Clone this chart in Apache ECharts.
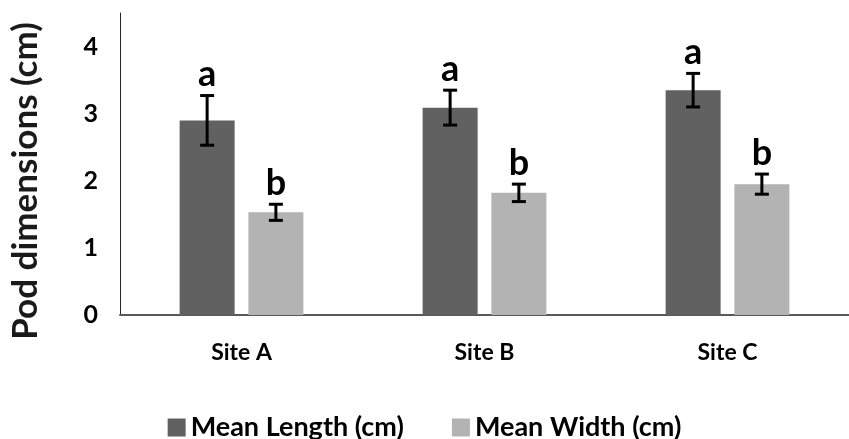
<!DOCTYPE html>
<html>
<head>
<meta charset="utf-8">
<script src="https://cdn.jsdelivr.net/npm/echarts@6/dist/echarts.min.js"></script>
<style>html,body{margin:0;padding:0;background:#fff;}#c{width:849px;height:439px;}</style>
</head>
<body>
<div id="c"></div>
<script>
const categories = ['Site A', 'Site B', 'Site C'];
const seriesNames = ['Mean Length (cm)', 'Mean Width (cm)'];
const lengthMean = [2.90, 3.09, 3.35];
const lengthErr = [0.37, 0.26, 0.25];
const widthMean = [1.53, 1.82, 1.95];
const widthErr = [0.12, 0.13, 0.15];
const lengthLetters = ['a', 'a', 'a'];
const widthLetters = ['b', 'b', 'b'];
const yTicks = [0, 1, 2, 3, 4];
const yTitle = 'Pod dimensions (cm)';

const BAR_W = 55;
const GAP_RATIO = 0.25;
const OFFSET = (BAR_W + BAR_W * GAP_RATIO) / 2;
const FONT = 'Lato';

function errSeries(means, errs, letters, sign) {
  return {
    type: 'custom',
    z: 10,
    silent: true,
    data: means.map((m, i) => [i, m, errs[i]]),
    renderItem: function (params, api) {
      const i = api.value(0), m = api.value(1), e = api.value(2);
      const hi = api.coord([i, m + e]);
      const lo = api.coord([i, m - e]);
      const x = hi[0] + sign * OFFSET;
      const cap = 7;
      const st = { stroke: '#000', lineWidth: 3 };
      return {
        type: 'group',
        children: [
          { type: 'line', shape: { x1: x, y1: hi[1], x2: x, y2: lo[1] }, style: st },
          { type: 'line', shape: { x1: x - cap, y1: hi[1], x2: x + cap, y2: hi[1] }, style: st },
          { type: 'line', shape: { x1: x - cap, y1: lo[1], x2: x + cap, y2: lo[1] }, style: st },
          { type: 'text', style: { text: letters[params.dataIndex], x: x, y: hi[1] - 3,
              align: 'center', verticalAlign: 'bottom', fill: '#000',
              font: 'bold 36px ' + FONT } }
        ]
      };
    }
  };
}

const chart = echarts.init(document.getElementById('c'), null, { renderer: 'canvas' });
chart.setOption({
  animation: false,
  backgroundColor: '#fff',
  textStyle: { fontFamily: FONT },
  grid: { left: 120, right: -11, top: 13, bottom: 124, containLabel: false },
  legend: {
    data: seriesNames,
    top: 409,
    left: 'center',
    icon: 'rect',
    itemWidth: 18,
    itemHeight: 18,
    itemGap: 48,
    textStyle: { fontFamily: FONT, fontWeight: 'bold', fontSize: 27, color: '#000' }
  },
  xAxis: {
    type: 'category',
    data: categories,
    axisLine: { lineStyle: { color: '#595959', width: 2 } },
    axisTick: { show: false },
    axisLabel: { margin: 26, fontFamily: FONT, fontWeight: 'bold', fontSize: 23, color: '#000' }
  },
  yAxis: {
    type: 'value',
    min: 0,
    max: 4.5,
    interval: 1,
    splitLine: { show: false },
    axisTick: { show: false },
    axisLine: { show: true, lineStyle: { color: '#262626', width: 1 } },
    axisLabel: {
      margin: 22, fontFamily: FONT, fontWeight: 'bold', fontSize: 25, color: '#000',
      formatter: function (v) { return yTicks.indexOf(v) >= 0 ? String(v) : ''; }
    }
  },
  graphic: [{
    type: 'text',
    x: 26, y: 181,
    rotation: Math.PI / 2,
    style: { text: yTitle, align: 'center', verticalAlign: 'middle',
      font: 'bold 35px ' + FONT, fill: '#1a1a1a' }
  }],
  series: [
    { name: seriesNames[0], type: 'bar', data: lengthMean, barWidth: BAR_W, barGap: (GAP_RATIO * 100) + '%',
      itemStyle: { color: '#616161' } },
    { name: seriesNames[1], type: 'bar', data: widthMean, barWidth: BAR_W, barGap: (GAP_RATIO * 100) + '%',
      itemStyle: { color: '#b3b3b3' } },
    errSeries(lengthMean, lengthErr, lengthLetters, -1),
    errSeries(widthMean, widthErr, widthLetters, 1)
  ]
});
</script>
</body>
</html>
